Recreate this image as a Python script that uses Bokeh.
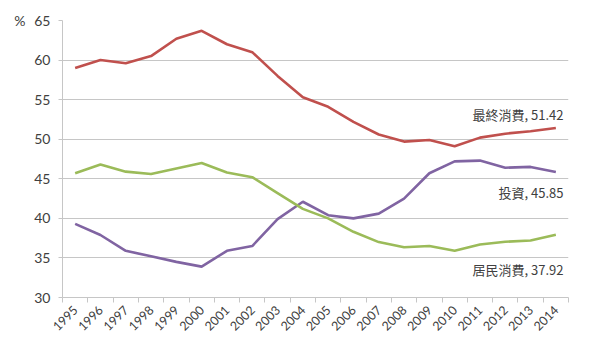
import math
from bokeh.plotting import figure
from bokeh.models import FixedTicker, LinearAxis, Range1d
from bokeh.core.properties import value
from bokeh.embed import file_html
from bokeh.resources import INLINE

years = [str(y) for y in range(1995, 2015)]
final_consumption = [59.0, 60.0, 59.6, 60.5, 62.7, 63.7, 62.0, 61.0, 58.0, 55.3,
                     54.1, 52.2, 50.6, 49.7, 49.9, 49.1, 50.2, 50.7, 51.0, 51.42]
investment = [39.3, 37.9, 35.9, 35.2, 34.5, 33.9, 35.9, 36.5, 39.9, 42.1,
              40.4, 40.0, 40.6, 42.5, 45.7, 47.2, 47.3, 46.4, 46.5, 45.85]
household = [45.7, 46.8, 45.9, 45.6, 46.3, 47.0, 45.8, 45.2, 43.2, 41.2,
             40.0, 38.3, 37.0, 36.35, 36.5, 35.9, 36.7, 37.05, 37.2, 37.92]
series_names = ["最終消費", "投資", "居民消費"]
y_ticks = [30, 35, 40, 45, 50, 55, 60, 65]
unit_label = "%"

colors = ["#c0504d", "#8064a2", "#9bbb59"]
label_dy = [1.7, -2.6, -4.4]  # data-unit offsets of end labels

FONT = "Noto Sans CJK TC"
TXT = "#404040"

n = len(years)
xs = [i + 0.5 for i in range(n)]

p = figure(width=585, height=341, output_backend="svg", toolbar_location=None,
           x_range=Range1d(0, n), y_range=Range1d(30, 65),
           min_border_left=62, min_border_right=17, min_border_top=20,
           min_border_bottom=44)
p.outline_line_color = None
p.background_fill_color = "white"
p.border_fill_color = "white"

p.xgrid.grid_line_color = None
p.ygrid.ticker = FixedTicker(ticks=y_ticks)
p.ygrid.grid_line_color = "#c6c6c6"
p.ygrid.grid_line_width = 1

# x axis
p.xaxis.ticker = FixedTicker(ticks=xs, minor_ticks=list(range(n + 1)))
p.xaxis.major_label_overrides = {x: y for x, y in zip(xs, years)}
p.xaxis.major_tick_line_color = None
p.xaxis.minor_tick_line_color = "#c6c6c6"
p.xaxis.minor_tick_out = 5
p.xaxis.minor_tick_in = 0
p.xaxis.axis_line_color = "#c6c6c6"
p.xaxis.major_label_orientation = math.pi / 4
p.xaxis.major_label_text_font = "Lato"
p.xaxis.major_label_text_font_size = "12.5px"
p.xaxis.major_label_text_color = TXT
p.xaxis.major_label_standoff = 4

# y axis
p.yaxis.ticker = FixedTicker(ticks=y_ticks)
p.yaxis.minor_tick_line_color = None
p.yaxis.major_tick_line_color = "#c6c6c6"
p.yaxis.major_tick_out = 4
p.yaxis.major_tick_in = 0
p.yaxis.axis_line_color = "#c6c6c6"
p.yaxis.major_label_text_font = "Lato"
p.yaxis.major_label_text_font_size = "14px"
p.yaxis.major_label_text_color = TXT
p.yaxis.major_label_standoff = 8

# unit label as an extra left axis with a single tick at the top
unit_axis = LinearAxis(ticker=FixedTicker(ticks=[y_ticks[-1]]),
                       major_label_overrides={y_ticks[-1]: unit_label},
                       axis_line_color=None, major_tick_line_color=None,
                       minor_tick_line_color=None, major_label_standoff=0,
                       major_label_text_font="Lato",
                       major_label_text_font_size="14px",
                       major_label_text_color=TXT)
p.add_layout(unit_axis, "left")

for vals, c in zip([final_consumption, investment, household], colors):
    p.line(xs, vals, line_color=c, line_width=2.6)

last_vals = [final_consumption[-1], investment[-1], household[-1]]
for name, v, dy in zip(series_names, last_vals, label_dy):
    p.text(x=[n], y=[v + dy], text=[f"{name}, {v:.2f}"],
           text_align="right", text_baseline="middle", x_offset=-5,
           text_font=value(FONT), text_font_size="13px", text_color=TXT)

open("out.html", "w").write(file_html(p, INLINE))
